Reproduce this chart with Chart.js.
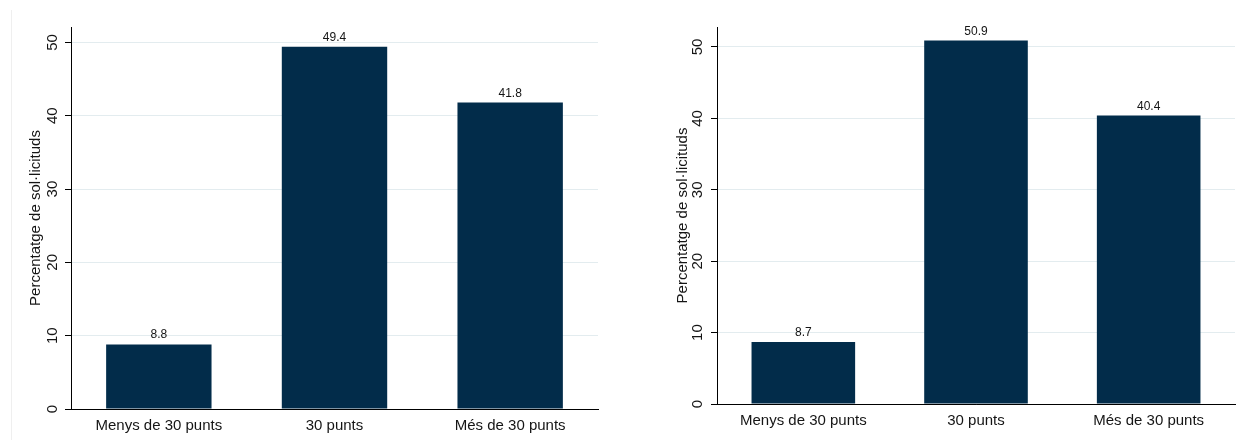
<!DOCTYPE html>
<html>
<head>
<meta charset="utf-8">
<script src="https://cdn.jsdelivr.net/npm/chart.js@4.4.1/dist/chart.umd.min.js"></script>
<style>
  body { margin: 0; background: #fff; }
  #wrap { position: relative; width: 1239px; height: 441px; overflow: hidden; }
  #left { position: absolute; left: 0; top: 0; }
  #right { position: absolute; left: 615px; top: 0; }
  #frame { position: absolute; left: 11px; top: 10px; height: 430px; border-left: 1px solid #efefef; }
</style>
</head>
<body>
<div id="wrap">
  <div id="frame"></div>
  <canvas id="left" width="615" height="441"></canvas>
  <canvas id="right" width="624" height="441"></canvas>
</div>
<script>
// Data
const categories = ['Menys de 30 punts', '30 punts', 'Més de 30 punts'];
const valuesLeft = [8.8, 49.4, 41.8];
const valuesRight = [8.7, 50.9, 40.4];
const yTicks = [0, 10, 20, 30, 40, 50];
const yTitle = 'Percentatge de sol·licituds';

const barColor = '#022c4a';
const gridColor = '#e3ecef';
const textColor = '#151515';
const font = '"Liberation Sans", Arial, sans-serif';

// rotated y labels, axis title and value labels
const labelsPlugin = {
    id: 'labels',
    afterDraw(chart, args, opts) {
        const ctx = chart.ctx;
        const y = chart.scales.y;
        const area = chart.chartArea;
        ctx.save();
        ctx.fillStyle = textColor;
        ctx.textAlign = 'center';
        ctx.textBaseline = 'middle';
        ctx.font = '15px ' + font;
        yTicks.forEach(v => {
            ctx.save();
            ctx.translate(opts.tickX, y.getPixelForValue(v));
            ctx.rotate(-Math.PI / 2);
            ctx.fillText(String(v), 0, 0);
            ctx.restore();
        });
        ctx.save();
        ctx.translate(opts.titleX, (area.top + area.bottom) / 2);
        ctx.rotate(-Math.PI / 2);
        ctx.fillText(yTitle, 0, 0);
        ctx.restore();

        ctx.font = '12px ' + font;
        ctx.textBaseline = 'alphabetic';
        const meta = chart.getDatasetMeta(0);
        meta.data.forEach((bar, i) => {
            const v = chart.data.datasets[0].data[i];
            ctx.fillText(v.toFixed(1), bar.x, bar.y - 6);
        });
        ctx.restore();
    }
};

function makeChart(id, values, s) {
    const ctx = document.getElementById(id).getContext('2d');
    return new Chart(ctx, {
        type: 'bar',
        data: {
            labels: categories,
            datasets: [{
                data: values,
                backgroundColor: barColor,
                borderWidth: 0,
                barPercentage: 0.6,
                categoryPercentage: 1.0
            }]
        },
        options: {
            responsive: false,
            animation: false,
            devicePixelRatio: 1,
            layout: { padding: { left: 0, top: s.top, right: s.right, bottom: 0 } },
            plugins: {
                legend: { display: false },
                tooltip: { enabled: false },
                labels: { tickX: s.tickX, titleX: s.titleX }
            },
            scales: {
                x: {
                    grid: { display: false },
                    border: { display: true, color: '#000', width: 1 },
                    ticks: { color: textColor, font: { size: 15, family: font }, padding: 0, maxRotation: 0 },
                    afterFit: sc => { sc.height = s.xHeight; }
                },
                y: {
                    min: 0,
                    max: s.max,
                    grid: {
                        color: c => (c.tick && c.tick.value === 0) ? '#000' : gridColor,
                        tickColor: '#000',
                        tickLength: 6,
                        lineWidth: 1
                    },
                    border: { display: true, color: '#000', width: 1 },
                    ticks: { display: false },
                    afterBuildTicks: sc => { sc.ticks = yTicks.map(v => ({ value: v })); },
                    afterFit: sc => { sc.width = s.yWidth; }
                }
            }
        },
        plugins: [labelsPlugin]
    });
}

makeChart('left', valuesLeft, { top: 27, right: 17, xHeight: 32, yWidth: 71, max: 52.1, tickX: 53, titleX: 36 });
makeChart('right', valuesRight, { top: 27, right: 4, xHeight: 37, yWidth: 102, max: 52.8, tickX: 83, titleX: 68 });
</script>
</body>
</html>
